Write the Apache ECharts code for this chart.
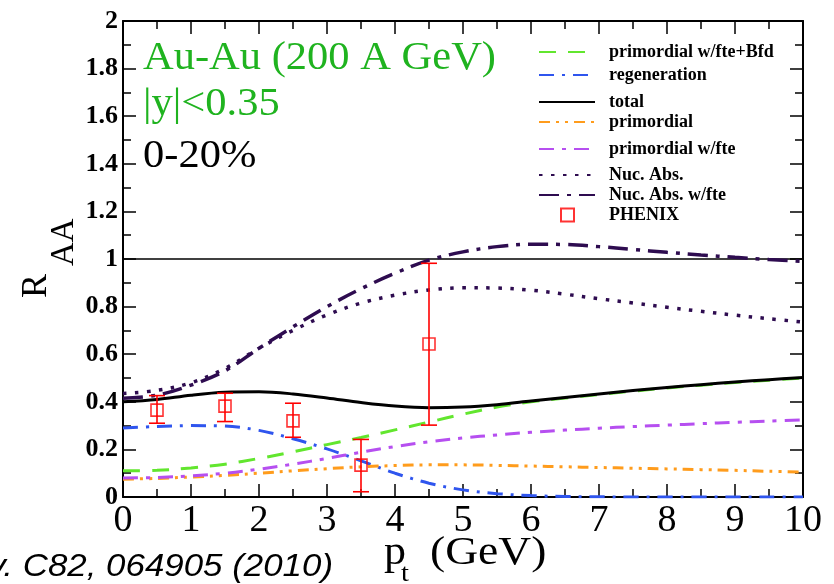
<!DOCTYPE html>
<html>
<head>
<meta charset="utf-8">
<script src="https://cdn.jsdelivr.net/npm/echarts@6/dist/echarts.min.js"></script>
<style>
  html, body { margin: 0; padding: 0; background: #fff; }
  #chart { width: 834px; height: 584px; }
</style>
</head>
<body>
<div id="chart"></div>
<script>
// transverse momentum grid (GeV)
const pt = [0, 0.5, 1, 1.5, 2, 2.5, 3, 3.5, 4, 4.5, 5, 5.5, 6, 6.5, 7, 7.5, 8, 8.5, 9, 9.5, 10];

// model curves R_AA(pt)
const primFteBfd = [0.110, 0.112, 0.122, 0.138, 0.162, 0.190, 0.220, 0.250, 0.282, 0.315, 0.348, 0.378, 0.400, 0.416, 0.431, 0.445, 0.458, 0.470, 0.481, 0.491, 0.500];
const regeneration = [0.290, 0.296, 0.300, 0.298, 0.280, 0.245, 0.202, 0.152, 0.100, 0.058, 0.030, 0.014, 0.006, 0.002, 0.001, 0, 0, 0, 0, 0, 0];
const total = [0.400, 0.410, 0.428, 0.440, 0.442, 0.433, 0.416, 0.397, 0.382, 0.375, 0.378, 0.388, 0.403, 0.418, 0.433, 0.447, 0.460, 0.472, 0.483, 0.493, 0.502];
const primordial = [0.075, 0.078, 0.084, 0.091, 0.100, 0.110, 0.119, 0.127, 0.132, 0.135, 0.135, 0.133, 0.130, 0.127, 0.124, 0.121, 0.118, 0.115, 0.112, 0.108, 0.105];
const primFte = [0.080, 0.082, 0.089, 0.100, 0.117, 0.138, 0.162, 0.188, 0.212, 0.232, 0.248, 0.261, 0.272, 0.281, 0.289, 0.296, 0.302, 0.308, 0.314, 0.319, 0.324];
const nucAbs = [0.435, 0.448, 0.480, 0.540, 0.625, 0.700, 0.765, 0.815, 0.848, 0.870, 0.879, 0.878, 0.869, 0.852, 0.833, 0.815, 0.797, 0.780, 0.764, 0.749, 0.735];
const nucAbsFte = [0.415, 0.428, 0.470, 0.530, 0.625, 0.715, 0.800, 0.875, 0.940, 0.995, 1.030, 1.052, 1.062, 1.061, 1.052, 1.040, 1.028, 1.017, 1.007, 0.998, 0.990];

// unity reference line
const unityX = [0, 10];
const unityY = [1, 1];

// PHENIX measurements
const phenixPt = [0.5, 1.5, 2.5, 3.5, 4.5];
const phenixRaa = [0.365, 0.382, 0.320, 0.134, 0.643];
const phenixLo = [0.310, 0.317, 0.251, 0.022, 0.302];
const phenixHi = [0.426, 0.436, 0.394, 0.242, 0.982];

// axis tick labels
const xTickLabels = ['0', '1', '2', '3', '4', '5', '6', '7', '8', '9', '10'];
const yTickLabels = ['0', '0.2', '0.4', '0.6', '0.8', '1', '1.2', '1.4', '1.6', '1.8', '2'];

const SERIF = 'Liberation Serif';
const zip = (xs, ys) => xs.map((x, i) => [x, ys[i]]);

const chart = echarts.init(document.getElementById('chart'), null, { renderer: 'canvas' });

function lineSeries(name, ys, color, width, dash) {
  return {
    name, type: 'line', data: zip(pt, ys),
    smooth: 0.35, symbol: 'none', silent: true,
    lineStyle: { color, width, type: dash, cap: 'butt' },
    itemStyle: { color },
    z: 3
  };
}

const legendRows = [
  ['primordial w/fte+Bfd', 50],
  ['regeneration', 73],
  ['total', 100],
  ['primordial', 120],
  ['primordial w/fte', 147],
  ['Nuc. Abs.', 173],
  ['Nuc. Abs. w/fte', 193],
  ['PHENIX', 213]
];

const hiddenMarker = { color: 'rgba(0,0,0,0)', borderColor: 'rgba(0,0,0,0)', borderWidth: 0, opacity: 0 };

const legends = legendRows.map(([name, cy]) => {
  const isPoint = name === 'PHENIX';
  const lg = {
    data: [name],
    left: isPoint ? 560 : 538,
    top: cy - 7,
    padding: 0,
    itemWidth: isPoint ? 13 : 56,
    itemHeight: isPoint ? 13 : 14,
    selectedMode: false,
    textStyle: {
      fontFamily: SERIF, fontWeight: 'bold', fontSize: 18, color: '#000',
      padding: [0, 0, 0, isPoint ? 30 : 9]
    }
  };
  if (!isPoint) lg.itemStyle = hiddenMarker;
  return lg;
});

const axisCommon = {
  type: 'value',
  splitLine: { show: false },
  minorSplitLine: { show: false },
  axisLine: { onZero: false, lineStyle: { color: '#000', width: 2 } },
  axisTick: { inside: true, length: 13, lineStyle: { color: '#000', width: 1.5 } },
  minorTick: { show: true, splitNumber: 2, length: 8, lineStyle: { color: '#000', width: 1.5 } }
};

// zrender places text by its top edge; convert a baseline position
const textTop = (baseline, size, k) => baseline - (k || 0.8375) * size;

const option = {
  animation: false,
  backgroundColor: '#fff',
  grid: { left: 123, right: 31, top: 21, bottom: 87, containLabel: false },
  legend: legends,
  xAxis: [
    Object.assign({}, axisCommon, {
      min: 0, max: 10, interval: 1, position: 'bottom',
      axisLabel: {
        margin: 5, fontFamily: SERIF, fontSize: 38, color: '#000',
        formatter: v => xTickLabels[Math.round(v)]
      }
    }),
    Object.assign({}, axisCommon, {
      min: 0, max: 10, interval: 1, position: 'top',
      axisLabel: { show: false }
    })
  ],
  yAxis: [
    Object.assign({}, axisCommon, {
      min: 0, max: 2, interval: 0.2, position: 'left',
      axisLabel: {
        margin: 5, fontFamily: SERIF, fontWeight: 'bold', fontSize: 26, color: '#000',
        formatter: v => yTickLabels[Math.round(v / 0.2)]
      }
    }),
    Object.assign({}, axisCommon, {
      min: 0, max: 2, interval: 0.2, position: 'right',
      axisLabel: { show: false }
    })
  ],
  series: [
    {
      name: 'unity', type: 'line', data: zip(unityX, unityY), symbol: 'none', silent: true,
      lineStyle: { color: '#000', width: 1.4 }, z: 2
    },
    lineSeries('primordial w/fte+Bfd', primFteBfd, '#62e62e', 3, [17, 12]),
    lineSeries('regeneration', regeneration, '#2f55ee', 3, [15, 8, 3, 8]),
    lineSeries('total', total, '#000000', 3, 'solid'),
    lineSeries('primordial', primordial, '#ff9c1c', 3, [11, 6, 3, 6, 3, 6]),
    lineSeries('primordial w/fte', primFte, '#b64ff0', 3, [15, 8, 4, 8]),
    lineSeries('Nuc. Abs.', nucAbs, '#2e0c50', 3.5, [3.5, 8.5]),
    lineSeries('Nuc. Abs. w/fte', nucAbsFte, '#2e0c50', 3.5, [20, 8, 4, 8]),
    {
      name: 'phenix-errors', type: 'custom', silent: true, z: 5,
      data: phenixPt.map((x, i) => [x, phenixLo[i], phenixHi[i]]),
      renderItem: (params, api) => {
        const hi = api.coord([api.value(0), api.value(2)]);
        const lo = api.coord([api.value(0), api.value(1)]);
        const cap = 8;
        const style = { stroke: '#ff0000', lineWidth: 1.6 };
        return {
          type: 'group',
          children: [
            { type: 'line', shape: { x1: hi[0], y1: hi[1], x2: lo[0], y2: lo[1] }, style },
            { type: 'line', shape: { x1: hi[0] - cap, y1: hi[1], x2: hi[0] + cap, y2: hi[1] }, style },
            { type: 'line', shape: { x1: lo[0] - cap, y1: lo[1], x2: lo[0] + cap, y2: lo[1] }, style }
          ]
        };
      }
    },
    {
      name: 'PHENIX', type: 'scatter', data: zip(phenixPt, phenixRaa),
      symbol: 'rect', symbolSize: 12, silent: true, z: 6,
      itemStyle: { color: 'rgba(255,255,255,0)', borderColor: '#ff0000', borderWidth: 1.6 }
    }
  ],
  graphic: [
    { type: 'text', x: 143, y: textTop(72, 39), scaleX: 1.09,
      style: { text: 'Au-Au (200 A GeV)', fontFamily: SERIF, fontSize: 39, fill: '#1fb31f' } },
    { type: 'text', x: 143, y: textTop(118, 39), scaleX: 1.09,
      style: { text: '|y|<0.35', fontFamily: SERIF, fontSize: 39, fill: '#1fb31f' } },
    { type: 'text', x: 143, y: textTop(170, 39), scaleX: 1.09,
      style: { text: '0-20%', fontFamily: SERIF, fontSize: 39, fill: '#000' } },
    // y-axis title R_AA
    { type: 'text', x: 37, y: 298, rotation: Math.PI / 2,
      style: { text: 'R', fontFamily: SERIF, fontSize: 36, fill: '#000', align: 'left', verticalAlign: 'middle' } },
    { type: 'text', x: 64, y: 266, rotation: Math.PI / 2,
      style: { text: 'AA', fontFamily: SERIF, fontSize: 33, fill: '#000', align: 'left', verticalAlign: 'middle' } },
    // x-axis title p_t (GeV)
    { type: 'text', x: 384, y: textTop(567, 40), scaleX: 1.1,
      style: { text: 'p', fontFamily: SERIF, fontSize: 40, fill: '#000' } },
    { type: 'text', x: 401, y: textTop(583, 26), scaleX: 1.1,
      style: { text: 't', fontFamily: SERIF, fontSize: 26, fill: '#000' } },
    { type: 'text', x: 430, y: textTop(567, 40), scaleX: 1.14,
      style: { text: '(GeV)', fontFamily: SERIF, fontSize: 40, fill: '#000' } },
    // reference
    { type: 'text', x: 333, y: textTop(578, 32, 0.8465), scaleX: 1.09,
      style: { text: 'Phys. Rev. C82, 064905 (2010)', fontFamily: 'Liberation Sans', fontStyle: 'italic', fontSize: 32, fill: '#000', align: 'right' } }
  ]
};

chart.setOption(option);
</script>
</body>
</html>
